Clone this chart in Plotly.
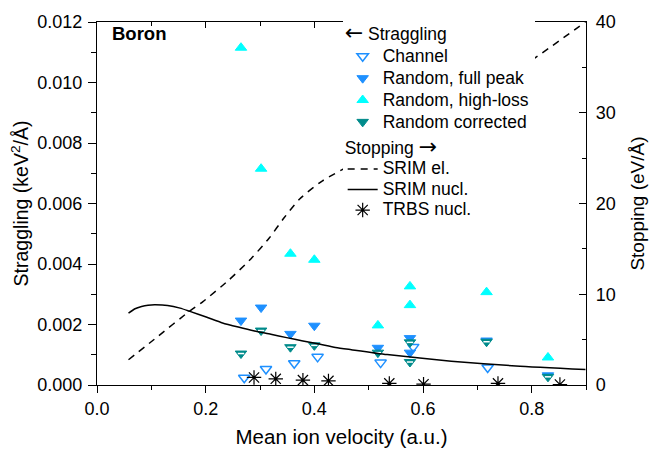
import plotly.graph_objects as go

FONT = "Liberation Sans, Arial, sans-serif"

# ---- straggling data (keV^2/Å) vs mean ion velocity (a.u.) ----
channel_v = [0.271, 0.311, 0.363, 0.406, 0.522, 0.582, 0.719]
channel_s = [0.00024, 0.00053, 0.00072, 0.00093, 0.00074, 0.00126, 0.00058]

random_v = [0.265, 0.302, 0.356, 0.400, 0.517, 0.576, 0.576, 0.717, 0.830]
full_peak_s = [0.00213, 0.00256, 0.00169, 0.00196, 0.00123, 0.00155, 0.00107, 0.00147, 0.00032]
high_loss_s = [0.01115, 0.00715, 0.00434, 0.00414, 0.00197, 0.00326, 0.00264, 0.00307, 0.00091]
corrected_s = [0.00104, 0.00180, 0.00125, 0.00131, 0.00107, 0.00141, 0.00076, 0.00143, 0.00027]

# ---- stopping (eV/Å) ----
srim_el_v = [0.058, 0.113, 0.168, 0.195, 0.242, 0.284, 0.317, 0.344, 0.373, 0.415,
             0.50, 0.60, 0.70, 0.771, 0.899]
srim_el_s = [2.78, 5.40, 8.03, 9.19, 11.53, 13.95, 16.2, 18.4, 20.5, 22.5,
             25.3, 28.8, 32.2, 34.6, 40.0]

srim_nucl_v = [0.058, 0.070, 0.082, 0.094, 0.106, 0.130, 0.153, 0.171, 0.201, 0.231,
               0.260, 0.290, 0.320, 0.349, 0.379, 0.409, 0.439, 0.468, 0.534, 0.652,
               0.771, 0.899]
srim_nucl_s = [7.92, 8.40, 8.65, 8.79, 8.83, 8.76, 8.47, 8.11, 7.49, 6.84,
               6.38, 5.95, 5.59, 5.22, 4.86, 4.51, 4.14, 3.89, 3.35, 2.63,
               2.09, 1.70]

trbs_v = [0.289, 0.329, 0.379, 0.426, 0.538, 0.601, 0.738, 0.852]
trbs_s = [0.83, 0.68, 0.54, 0.46, 0.18, 0.09, 0.18, 0.05]

BLUE = "#1E90FF"
CYAN = "#00FFFF"
TEAL = "#008B8B"
LEG_SIZE = 17.5
ARROW = '<span style="font-family:DejaVu Sans;font-size:22px">{}</span>'

# the stopping block is laid out first so the straggling block sits above it
STOP_LEG = "legend"
STRAG_LEG = "legend2"


def leg(text):
    return f'<span style="font-size:{LEG_SIZE}px">{text}</span>'


fig = go.Figure()

fig.add_trace(go.Scatter(
    x=channel_v, y=channel_s, mode="markers", name=leg("Channel"),
    marker=dict(symbol="triangle-down-open", size=10, color=BLUE,
                line=dict(color=BLUE, width=1.5)),
    legend=STRAG_LEG))
fig.add_trace(go.Scatter(
    x=random_v, y=full_peak_s, mode="markers", name=leg("Random, full peak"),
    marker=dict(symbol="triangle-down", size=10, color=BLUE,
                line=dict(color=BLUE, width=1)),
    legend=STRAG_LEG))
fig.add_trace(go.Scatter(
    x=random_v, y=high_loss_s, mode="markers", name=leg("Random, high-loss"),
    marker=dict(symbol="triangle-up", size=10, color=CYAN,
                line=dict(color=CYAN, width=1)),
    legend=STRAG_LEG))
fig.add_trace(go.Scatter(
    x=random_v, y=corrected_s, mode="markers", name=leg("Random corrected"),
    marker=dict(symbol="triangle-down", size=10, color=TEAL,
                line=dict(color=TEAL, width=1)),
    legend=STRAG_LEG))
# thin light band across the upper part of the corrected markers
fig.add_trace(go.Scatter(
    x=random_v, y=corrected_s, mode="markers", showlegend=False, hoverinfo="skip",
    marker=dict(symbol="line-ew", size=4.5, color="white",
                line=dict(color="white", width=1.5))))

fig.add_trace(go.Scatter(
    x=srim_el_v, y=srim_el_s, mode="lines", name=leg("SRIM el."), yaxis="y2",
    line=dict(color="black", width=1.5, dash="7px,6px", shape="spline", smoothing=0.6),
    legend=STOP_LEG))
fig.add_trace(go.Scatter(
    x=srim_nucl_v, y=srim_nucl_s, mode="lines", name=leg("SRIM nucl."), yaxis="y2",
    line=dict(color="black", width=1.5, shape="spline", smoothing=0.6),
    legend=STOP_LEG))
fig.add_trace(go.Scatter(
    x=trbs_v, y=trbs_s, mode="markers", name=leg("TRBS nucl."), yaxis="y2",
    marker=dict(symbol="asterisk-open", size=12, color="black",
                line=dict(color="black", width=1.2)),
    legend=STOP_LEG))
# empty trace so the top frame axis is laid out
fig.add_trace(go.Scatter(x=[], y=[], xaxis="x2", showlegend=False, hoverinfo="skip"))

axis_common = dict(showline=True, linecolor="black", linewidth=1.3, showgrid=False,
                   zeroline=False, tickcolor="black", tickwidth=1.3,
                   tickfont=dict(family=FONT, size=18, color="black"))

legend_strag = dict(x=0.5024, y=1.012, xanchor="left", yanchor="top",
                    bgcolor="white", borderwidth=0, itemwidth=30, tracegroupgap=0,
                    font=dict(family=FONT, size=14.5, color="black"),
                    title=dict(text=ARROW.format("←") + " Straggling", side="top",
                               font=dict(family=FONT, size=LEG_SIZE, color="black")))
legend_stop = dict(x=0.5024, y=0.700, xanchor="left", yanchor="top",
                   bgcolor="white", borderwidth=0, itemwidth=30, tracegroupgap=0,
                   font=dict(family=FONT, size=13.5, color="black"),
                   title=dict(text="Stopping " + ARROW.format("→"), side="top",
                              font=dict(family=FONT, size=LEG_SIZE, color="black")))

fig.update_layout(
    width=656, height=456,
    margin=dict(l=97, r=54, t=15, b=71),
    paper_bgcolor="white", plot_bgcolor="white",
    font=dict(family=FONT, color="black"),
    xaxis=dict(range=[0, 0.9], tick0=0, dtick=0.2, tickformat=".1f",
               ticks="outside", ticklen=7,
               minor=dict(dtick=0.1, ticks="outside", ticklen=4, tickcolor="black", tickwidth=1.3),
               title=dict(text="Mean ion velocity (a.u.)", standoff=11,
                          font=dict(family=FONT, size=20.5, color="black")),
               **axis_common),
    xaxis2=dict(range=[0, 0.9], overlaying="x", side="top", anchor="y",
                tick0=0, dtick=0.2, ticks="inside", ticklen=6, showticklabels=False,
                minor=dict(dtick=0.1, ticks="inside", ticklen=4, tickcolor="black", tickwidth=1.3),
                **axis_common),
    yaxis=dict(range=[0, 0.012], tick0=0, dtick=0.002, tickformat=".3f",
               ticks="outside", ticklen=8, ticklabelstandoff=2,
               minor=dict(dtick=0.001, ticks="outside", ticklen=5, tickcolor="black", tickwidth=1.3),
               title=dict(text="Straggling (keV<sup>2</sup>/Å)", standoff=3,
                          font=dict(family=FONT, size=19.5, color="black")),
               **axis_common),
    yaxis2=dict(range=[0, 40], overlaying="y", side="right", anchor="x",
                tick0=0, dtick=10, ticks="inside", ticklen=7, ticklabelstandoff=5,
                minor=dict(dtick=5, ticks="inside", ticklen=4, tickcolor="black", tickwidth=1.3),
                title=dict(text="Stopping (eV/Å)", standoff=15,
                           font=dict(family=FONT, size=19, color="black")),
                **axis_common),
    annotations=[dict(text="<b>Boron</b>", xref="paper", yref="paper",
                      x=0.026, y=0.968, xanchor="left", yanchor="middle",
                      showarrow=False, font=dict(family=FONT, size=18.5, color="black"))],
)
fig.update_layout({STRAG_LEG: legend_strag, STOP_LEG: legend_stop})

fig.write_html("out.html")
